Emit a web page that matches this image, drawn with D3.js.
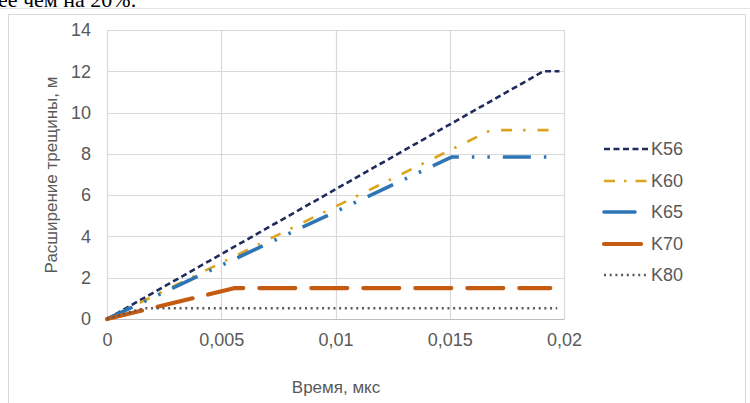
<!DOCTYPE html>
<html><head><meta charset="utf-8">
<script src="https://cdn.jsdelivr.net/npm/d3@7"></script>
<style>html,body{margin:0;padding:0;background:#fff;overflow:hidden}</style>
</head><body>
<svg id="c" width="750" height="403"></svg>
<script>
const seriesNames = ["K56","K60","K65","K70","K80"];
const k56 = [[0,0],[0.0191,12],[0.0198,12]];
const k60 = [[0,0],[0.0168,9.15],[0.0195,9.15]];
const k65 = [[0,0],[0.0151,7.85],[0.0197,7.85]];
const k70 = [[0,0],[0.0056,1.5],[0.0194,1.5]];
const k80 = [[0,0],[0.0016,0.52],[0.0197,0.52]];
const xTicks = [0,0.005,0.01,0.015,0.02];
const xTickLabels = ["0","0,005","0,01","0,015","0,02"];
const yTicks = [0,2,4,6,8,10,12,14];

const styles = [
  {data:k56,color:"#1f2b5c",w:2.6,dash:"6,3.5",cap:"butt"},
  {data:k60,color:"#dba41c",w:2.6,dash:"11,11,2.5,12",cap:"butt"},
  {data:k65,color:"#2e75b6",w:3.6,dash:"28,13,2.5,13,2.5,13",cap:"butt"},
  {data:k70,color:"#c55a11",w:4.2,dash:"36,16",cap:"round"},
  {data:k80,color:"#595959",w:2.4,dash:"2,3.7",cap:"butt"}
];

const svg = d3.select("#c");
// partial page text at top (cut by the page edge, as in the reference)
svg.append("text").attr("x",-2).attr("y",7).attr("font-family","Liberation Serif")
  .attr("font-size",22).attr("fill","#000").text("ее чем на 20%.");
svg.append("line").attr("x1",0).attr("x2",750).attr("y1",8.5).attr("y2",8.5).attr("stroke","#e4e4e4").attr("stroke-width",1);
// chart frame
svg.append("rect").attr("x",8.5).attr("y",14.5).attr("width",737).attr("height",400)
  .attr("fill","#fff").attr("stroke","#d9d9d9").attr("stroke-width",1);

const x = d3.scaleLinear().domain([0,0.02]).range([107,564]);
const y = d3.scaleLinear().domain([0,14]).range([319,30]);
const font = "Liberation Sans, Arial, sans-serif";
const fs = 18;

// gridlines
svg.append("g").selectAll("line").data(yTicks).join("line")
  .attr("x1",x(0)).attr("x2",x(0.02)).attr("y1",d=>Math.round(y(d))+0.5).attr("y2",d=>Math.round(y(d))+0.5)
  .attr("stroke","#d9d9d9").attr("stroke-width",1.2);
svg.append("g").selectAll("line").data(xTicks).join("line")
  .attr("x1",d=>Math.round(x(d))+0.5).attr("x2",d=>Math.round(x(d))+0.5).attr("y1",y(0)).attr("y2",y(14))
  .attr("stroke","#d9d9d9").attr("stroke-width",1.2);

const xAxis = d3.axisBottom(x).tickValues(xTicks).tickFormat((d,i)=>xTickLabels[i]).tickSize(0).tickPadding(14);
const gx = svg.append("g").attr("transform",`translate(0,${y(0)})`).call(xAxis);
gx.select(".domain").attr("stroke","#bfbfbf").attr("stroke-width",1.2);
gx.selectAll("text").attr("font-family",font).attr("font-size",fs).attr("fill","#595959");

const yAxis = d3.axisLeft(y).tickValues(yTicks).tickFormat(d=>String(d)).tickSize(0).tickPadding(16);
const gy = svg.append("g").attr("transform",`translate(${x(0)},0)`).call(yAxis);
gy.select(".domain").remove();
gy.selectAll("text").attr("font-family",font).attr("font-size",fs).attr("fill","#595959");

// axis titles
svg.append("text").attr("x",336).attr("y",393).attr("text-anchor","middle")
  .attr("font-family",font).attr("font-size",17).attr("fill","#595959").text("Время, мкс");
svg.append("text").attr("transform","translate(57,175) rotate(-90)").attr("text-anchor","middle")
  .attr("font-family",font).attr("font-size",17).attr("fill","#595959").text("Расширение трещины, м");

// series
const line = d3.line().x(d=>x(d[0])).y(d=>y(d[1]));
styles.forEach(s=>{
  svg.append("path").datum(s.data).attr("d",line).attr("fill","none")
    .attr("stroke",s.color).attr("stroke-width",s.w).attr("stroke-dasharray",s.dash)
    .attr("stroke-linecap",s.cap).attr("stroke-linejoin","round");
});

// legend
const legY = [149,181,212,244,275];
const legLen = [44,44,31,37,44];
const legDash = [ "6,3.5", "11,9,2.5,9", null, null, "2,3.7"];
seriesNames.forEach((n,i)=>{
  const s = styles[i];
  svg.append("line").attr("x1",604).attr("x2",604+legLen[i]).attr("y1",legY[i]).attr("y2",legY[i])
    .attr("stroke",s.color).attr("stroke-width",s.w).attr("stroke-dasharray",legDash[i])
    .attr("stroke-linecap",i===3||i===2?"round":"butt");
  svg.append("text").attr("x",651).attr("y",legY[i]+6).attr("font-family",font).attr("font-size",fs)
    .attr("fill","#595959").text(n);
});
</script>
</body></html>
